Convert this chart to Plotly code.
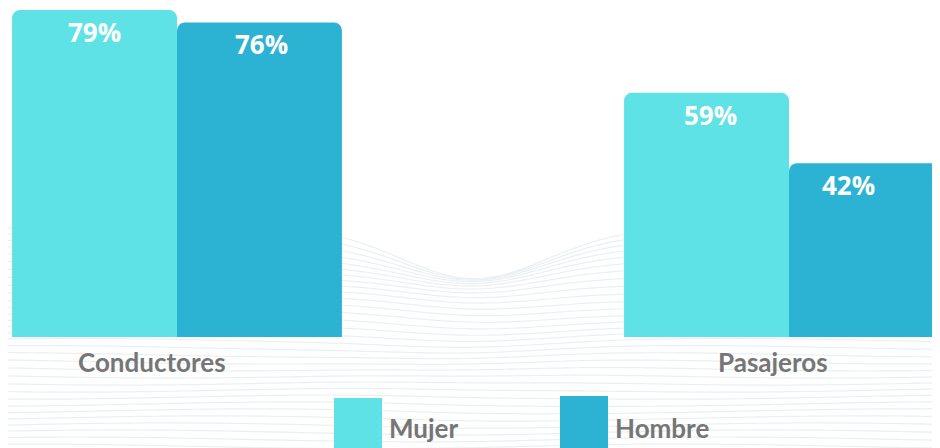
import numpy as np
import plotly.graph_objects as go

categories = ["Conductores", "Pasajeros"]
series_names = ["Mujer", "Hombre"]
mujer = [79, 59]
hombre = [76, 42]
colors = ["#5EE2E6", "#2CB3D4"]

# page body has an 8px margin; the figure is sized to fit the window
OFF = 8
W, H = 940 - OFF, 448 - OFF
fig = go.Figure()
for name, vals, col in zip(series_names, [mujer, hombre], colors):
    fig.add_trace(go.Bar(
        x=categories, y=vals, name=name, marker_color=col,
        marker_line_width=0, showlegend=False, hoverinfo="skip",
    ))

annotations = []
label_extra_shift = [[0, 4], [2, -23]]
for i, (name, vals) in enumerate(zip(series_names, [mujer, hombre])):
    for j, (c, v) in enumerate(zip(categories, vals)):
        annotations.append(dict(
            x=c, y=v, xref="x", yref="y", text=f"{v}%", showarrow=False,
            xshift=(-1 if i == 0 else 1) * 82.5 + label_extra_shift[i][j],
            yshift=-22, yanchor="middle",
            font=dict(family="Open Sans", size=26, color="white", weight="bold"),
        ))

cat_shift = [-25, -16]
for c, s in zip(categories, cat_shift):
    annotations.append(dict(
        x=c, y=0, xref="x", yref="y", text=c, showarrow=False,
        xshift=s, yshift=-25, yanchor="middle",
        font=dict(family="Lato", size=26, color="#767676", weight="bold"),
    ))

shapes = []
leg_sq = [(334, 398), (560, 396)]
for (lx, ty), name, col in zip(leg_sq, series_names, colors):
    shapes.append(dict(type="rect", xref="paper", yref="paper",
                       x0=(lx - OFF) / W, x1=(lx - OFF + 48) / W,
                       y0=-0.05, y1=1 - (ty - OFF) / H,
                       fillcolor=col, line_width=0, layer="above"))
    annotations.append(dict(
        x=(lx - OFF + 53) / W, y=1 - (428 - OFF) / H, xref="paper", yref="paper",
        text=name, showarrow=False, xanchor="left", yanchor="middle",
        font=dict(family="Lato", size=26, color="#767676", weight="bold"),
    ))

# decorative faint wave lines in the background
xs = np.linspace(0, 1, 160)
for k in range(34):
    base = 0.50 - k * 0.016
    amp = 0.11 * np.exp(-k / 7.0)
    ys = base - amp * np.exp(-((xs - 0.50) / 0.11) ** 2) \
        + 0.005 * np.sin(xs * 9 + k * 0.45)
    path = "M " + " L ".join(f"{x:.4f},{y:.4f}" for x, y in zip(xs, ys))
    shapes.append(dict(type="path", xref="paper", yref="paper", path=path,
                       line=dict(color="#EAF0F2", width=1.2), layer="below"))

fig.update_layout(
    width=W, height=H, margin=dict(l=0, r=0, t=0, b=0),
    paper_bgcolor="white", plot_bgcolor="rgba(0,0,0,0)",
    barmode="group", bargap=0.461, bargroupgap=0, barcornerradius=8,
    xaxis=dict(range=[-(177 - OFF) / 612, (W - (177 - OFF)) / 612],
               showticklabels=False, showgrid=False, zeroline=False, showline=False),
    yaxis=dict(range=[0, (337 - OFF) / (327 / 79)], domain=[(448 - 337) / H, 1],
               showticklabels=False, showgrid=False, zeroline=False, showline=False),
    annotations=annotations, shapes=shapes,
)
fig.write_html("out.html")
